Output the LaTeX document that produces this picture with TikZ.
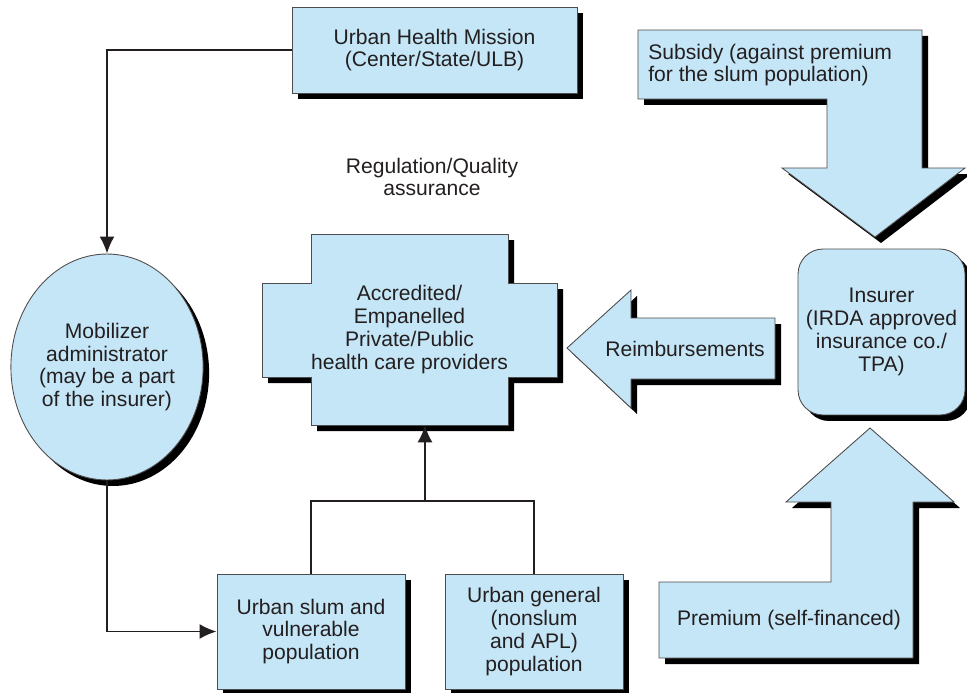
\documentclass[tikz,border=0pt]{standalone}
\usepackage{fontspec}
\setmainfont{Liberation Sans}
\usepackage{tikz}
\usetikzlibrary{arrows.meta, positioning, shapes.geometric, shadows}
\usepackage{xcolor}
\definecolor{boxblue}{RGB}{197,230,247}
\definecolor{inkgray}{RGB}{35,31,32}

\begin{document}
\begin{tikzpicture}[
    x=0.02cm, y=-0.02cm,
    font=\fontsize{12}{13}\selectfont,
    text=inkgray,
    blueshape/.style={
        fill=boxblue,
        draw=inkgray!80,
        line width=0.5pt,
        drop shadow={shadow xshift=0.12cm, shadow yshift=-0.12cm, fill=black, opacity=1}
    },
    boxBlue/.style={
        blueshape,
        rectangle,
        align=center,
        inner sep=2pt
    },
    label/.style={
        align=center,
        inner sep=0pt
    },
    link/.style={
        draw=inkgray,
        line width=1.1pt
    },
    linkArrow/.style={
        link,
        -{Latex[length=3.4mm, width=3mm]}
    }
]
\useasboundingbox (0,0) rectangle (967,693);

% Top row
\node[boxBlue, minimum width=5.7cm, minimum height=1.72cm] (uhm) at (434.5,50)
    {Urban Health Mission\\(Center/State/ULB)};

\draw[blueshape] (638,30) -- (922,30) -- (922,168) -- (965,168) -- (875,237)
    -- (782,168) -- (827,168) -- (827,99) -- (638,99) -- cycle;
\node[label, anchor=west, align=left] (sub) at (648,65)
    {Subsidy (against premium\\for the slum population)};

\node[label] (reg) at (432,177) {Regulation/Quality\\assurance};

% Middle row
\node[boxBlue, ellipse, inner sep=0pt, minimum width=3.76cm, minimum height=4.52cm] (mob) at (107,367)
    {Mobilizer\\administrator\\(may be a part\\of the insurer)};

\draw[blueshape] (311,234) -- (508,234) -- (508,283) -- (557,283) -- (557,377)
    -- (508,377) -- (508,425) -- (311,425) -- (311,377) -- (262,377)
    -- (262,283) -- (311,283) -- cycle;
\node[label, minimum width=3.94cm, minimum height=3.82cm] (prov) at (409.5,329.5)
    {Accredited/\\Empanelled\\Private/Public\\health care providers};

\draw[blueshape] (567,348) -- (631,290) -- (631,318) -- (775,318) -- (775,379)
    -- (631,379) -- (631,408) -- cycle;
\node[label] (reim) at (685,349) {Reimbursements};

\node[boxBlue, rounded corners=0.5cm, minimum width=3.34cm, minimum height=3.32cm] (ins) at (881.5,332)
    {Insurer\\(IRDA approved\\insurance co./\\TPA)};

% Bottom row
\node[boxBlue, minimum width=3.76cm, minimum height=2.3cm] (slum) at (311,631.5)
    {Urban slum and\\vulnerable\\population};
\node[boxBlue, minimum width=3.56cm, minimum height=2.3cm] (gen) at (534,631.5)
    {Urban general\\(nonslum\\and APL)\\population};

\draw[blueshape] (659,658) -- (913,658) -- (913,502) -- (954,502) -- (870,428)
    -- (786,502) -- (831,502) -- (831,582) -- (659,582) -- cycle;
\node[label] (prem) at (789,620) {Premium (self-financed)};

% Connectors
\draw[linkArrow] (uhm.west) -| (mob.north);
\draw[linkArrow] (mob.south) |- (slum.west);
\coordinate (join) at (425,501);
\draw[link] (slum.north) |- (join) -| (gen.north);
\draw[linkArrow] (join) -- (join |- prov.south);

\end{tikzpicture}
\end{document}
